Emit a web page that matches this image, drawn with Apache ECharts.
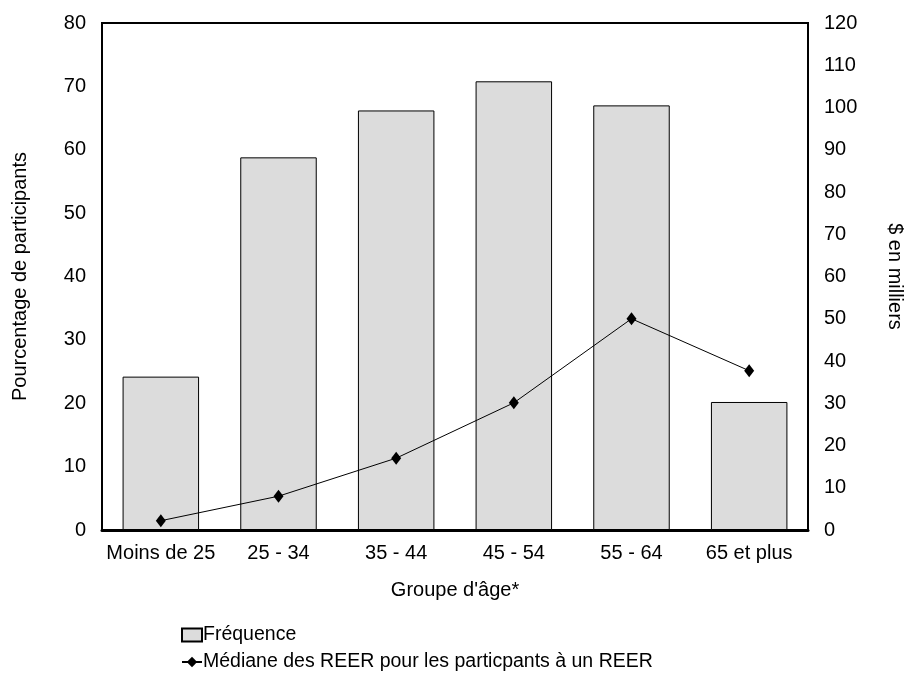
<!DOCTYPE html>
<html><head><meta charset="utf-8">
<script src="https://cdn.jsdelivr.net/npm/echarts@6/dist/echarts.min.js"></script>
<style>html,body{margin:0;padding:0;background:#fff}#c{width:913px;height:675px}</style>
</head><body><div id="c"></div>
<script>
const categories = ['Moins de 25', '25 - 34', '35 - 44', '45 - 54', '55 - 64', '65 et plus'];
const frequence = [24.2, 58.8, 66.2, 70.8, 67.0, 20.2];
const mediane = [2.2, 8.0, 17.0, 30.1, 50.0, 37.7];
const leftTicks = [0, 80, 10];
const rightTicks = [0, 120, 10];
const seriesNames = ['Fréquence', 'Médiane des REER pour les particpants à un REER'];

const font = 'Liberation Sans, Arial, sans-serif';
const fs = 20;
const legendText = { fontFamily: font, fontSize: 19.5, color: '#000', padding: [0, 0, 0, -4] };
const chart = echarts.init(document.getElementById('c'));
chart.setOption({
  animation: false,
  textStyle: { fontFamily: font },
  grid: { left: 102, right: 103, top: 23, bottom: 145, show: true, borderColor: '#000', borderWidth: 2, backgroundColor: 'transparent' },
  legend: [{
    orient: 'horizontal', left: 176, top: 620, itemWidth: 20, itemHeight: 13,
    textStyle: legendText,
    data: [{ name: seriesNames[0], icon: 'rect' }]
  }, {
    orient: 'horizontal', left: 176, top: 647, itemWidth: 20, itemHeight: 13,
    textStyle: legendText,
    data: [{ name: seriesNames[1] }]
  }],
  xAxis: {
    type: 'category', data: categories,
    name: "Groupe d'âge*", nameLocation: 'middle', nameGap: 50,
    nameTextStyle: { fontSize: fs, color: '#000', fontFamily: font },
    axisLine: { lineStyle: { color: '#000', width: 3 } },
    axisTick: { show: false },
    axisLabel: { fontSize: fs, color: '#000', margin: 13, fontFamily: font, interval: 0 }
  },
  yAxis: [{
    type: 'value', min: leftTicks[0], max: leftTicks[1], interval: leftTicks[2],
    name: 'Pourcentage de participants', nameLocation: 'middle', nameGap: 72,
    nameTextStyle: { fontSize: fs, color: '#000', fontFamily: font },
    axisLine: { show: true, lineStyle: { color: '#000', width: 2 } },
    axisTick: { show: false }, splitLine: { show: false },
    axisLabel: { fontSize: fs, color: '#000', margin: 16, fontFamily: font }
  }, {
    type: 'value', position: 'right', min: rightTicks[0], max: rightTicks[1], interval: rightTicks[2],
    name: '$ en milliers', nameLocation: 'middle', nameGap: 77, nameRotate: -90,
    nameTextStyle: { fontSize: fs, color: '#000', fontFamily: font },
    axisLine: { show: true, lineStyle: { color: '#000', width: 2 } },
    axisTick: { show: false }, splitLine: { show: false },
    axisLabel: { fontSize: fs, color: '#000', margin: 16, fontFamily: font }
  }],
  series: [{
    name: seriesNames[0], type: 'bar', data: frequence, yAxisIndex: 0,
    barWidth: '65%',
    itemStyle: { color: '#dcdcdc', borderColor: '#000', borderWidth: 1 }
  }, {
    name: seriesNames[1], type: 'line', data: mediane, yAxisIndex: 1,
    symbol: 'diamond', symbolSize: [10, 13],
    lineStyle: { color: '#000', width: 1 },
    itemStyle: { color: '#000' }
  }]
});
</script></body></html>
